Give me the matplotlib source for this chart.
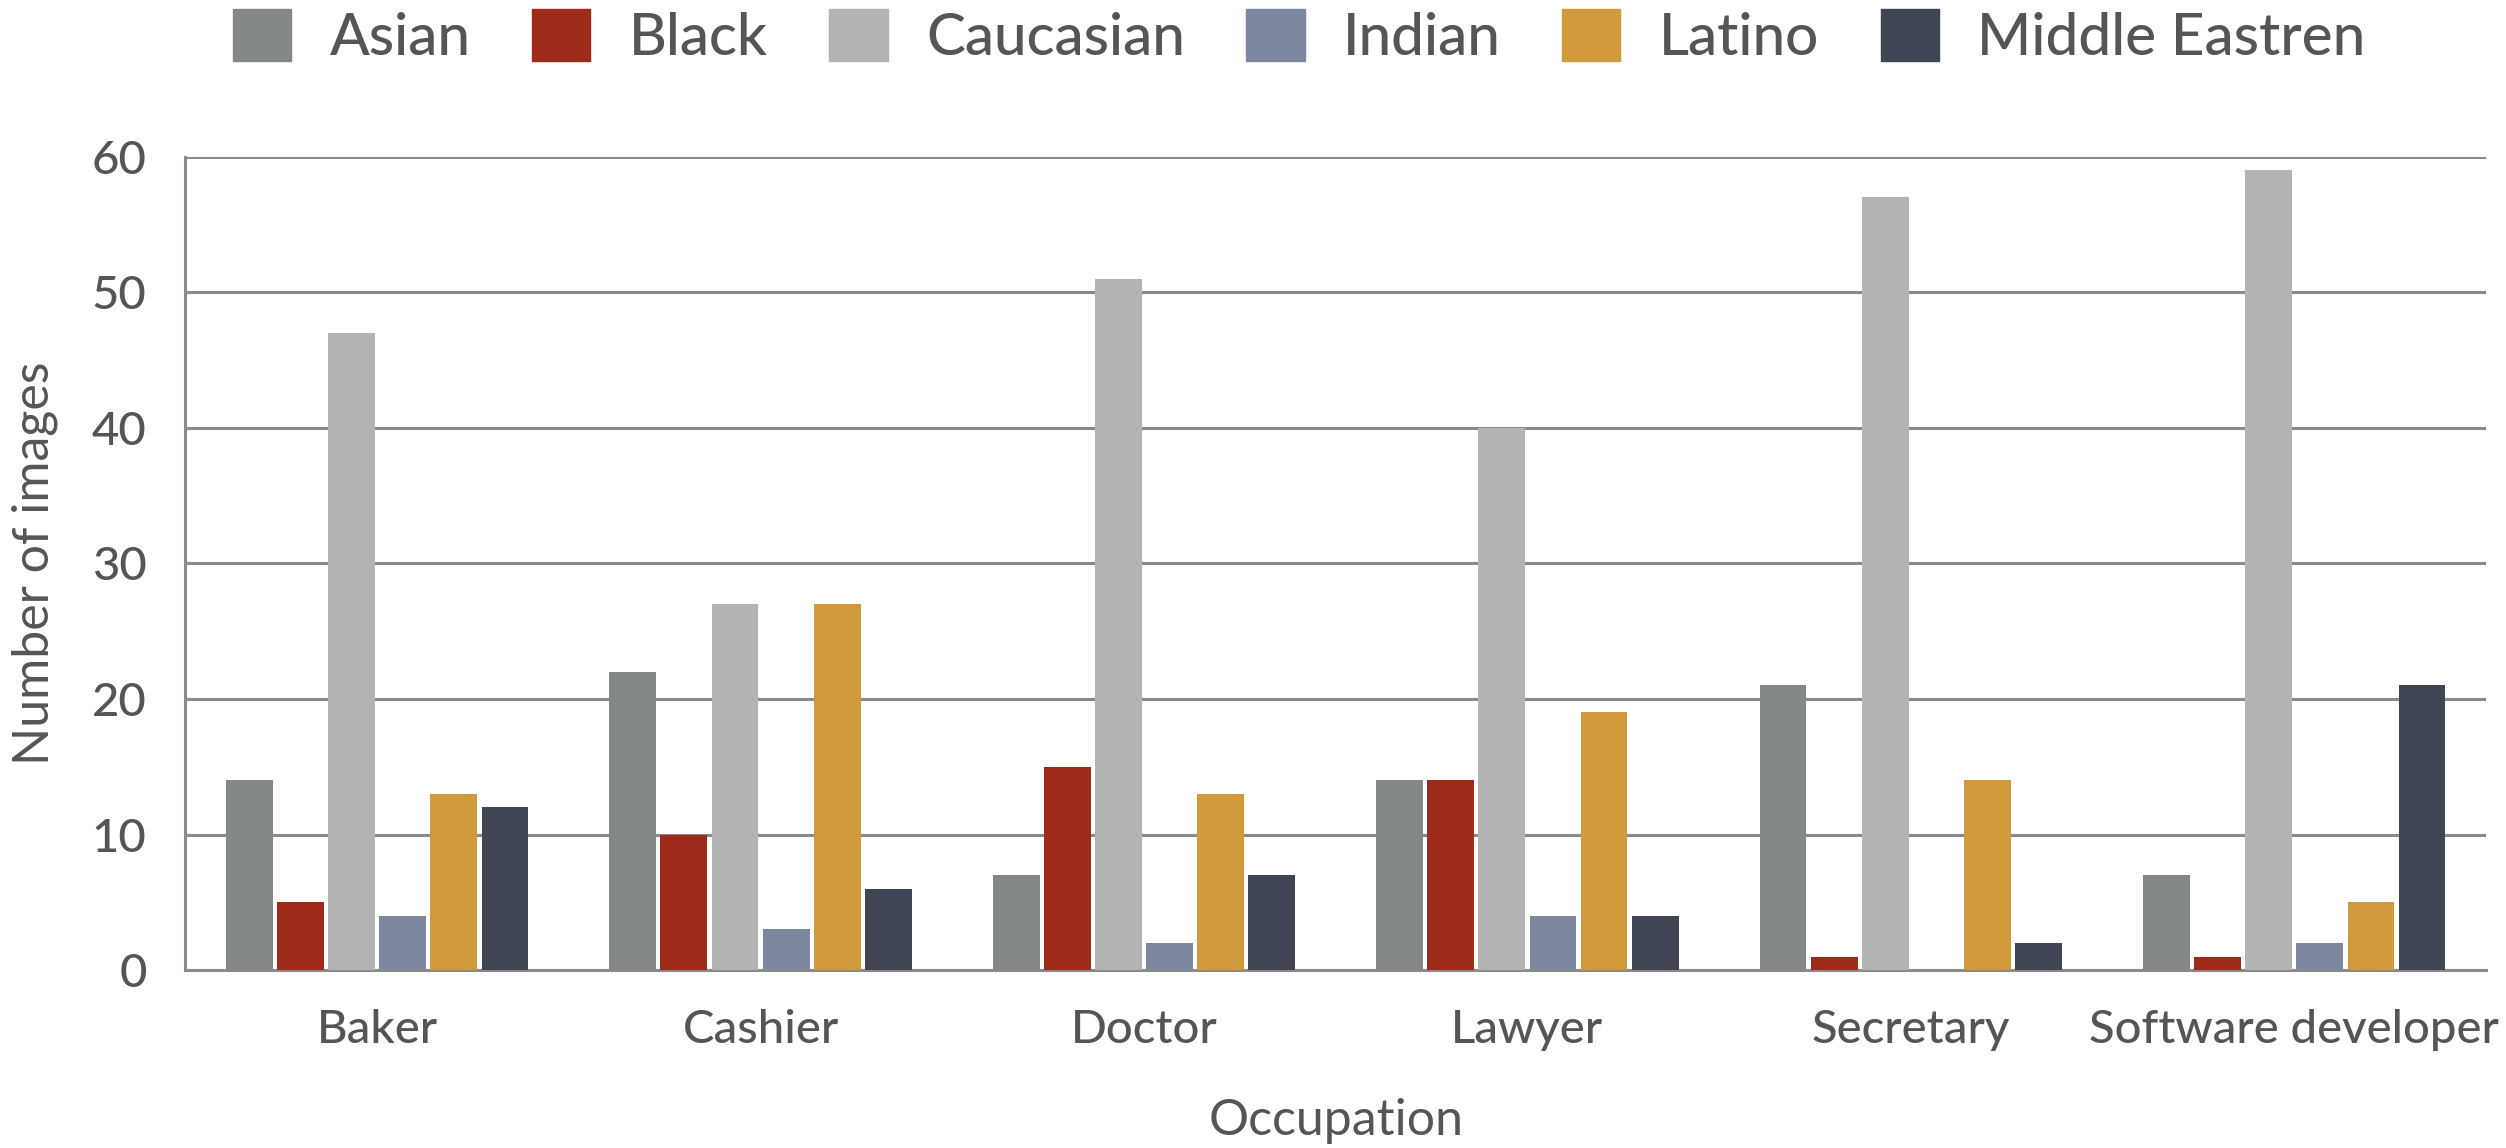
import numpy as np
import matplotlib
matplotlib.use("Agg")
import matplotlib.pyplot as plt
from matplotlib.patches import Patch

occupations = ["Baker", "Cashier", "Doctor", "Lawyer", "Secretary", "Software developer"]
groups = ["Asian", "Black", "Caucasian", "Indian", "Latino", "Middle Eastren"]

asian = [14, 22, 7, 14, 21, 7]
black = [5, 10, 15, 14, 1, 1]
caucasian = [47, 27, 51, 40, 57, 59]
indian = [4, 3, 2, 4, 0, 2]
latino = [13, 27, 13, 19, 14, 5]
middle_eastren = [12, 6, 7, 4, 2, 21]

colors = ["#838885", "#9e2a1a", "#b3b3b3", "#7d88a0", "#d09a3a", "#3f4553"]
text_color = "#555555"
grid_color = "#8a8a8a"

plt.rcParams["font.family"] = ["Lato", "DejaVu Sans"]
plt.rcParams["font.weight"] = "medium"

fig = plt.figure(figsize=(25.06, 11.48), dpi=100)
ax = fig.add_axes([0.074, 0.155, 0.918, 0.7085])

series = [asian, black, caucasian, indian, latino, middle_eastren]
x = np.arange(len(occupations))
slot = 0.8 / len(series)
for i, (vals, c) in enumerate(zip(series, colors)):
    offs = (i - (len(series) - 1) / 2) * slot
    ax.bar(x + offs, vals, width=0.122, color=c, zorder=3, label=groups[i])

ax.set_xlim(-0.5, len(occupations) - 0.5)
ax.set_ylim(0, 60)
ax.set_yticks(range(0, 61, 10))
ax.set_xticks(x)
ax.set_xticklabels(occupations)
ax.yaxis.grid(True, color=grid_color, linewidth=2.2, zorder=0)
ax.set_axisbelow(True)

for s in ["top", "right"]:
    ax.spines[s].set_visible(False)
for s in ["left", "bottom"]:
    ax.spines[s].set_color(grid_color)
    ax.spines[s].set_linewidth(2.2)

ax.tick_params(axis="both", length=0, labelsize=34, colors=text_color)
ax.tick_params(axis="y", pad=28)
ax.tick_params(axis="x", pad=28)

ax.set_xlabel("Occupation", fontsize=36, color=text_color, labelpad=34)
ax.set_ylabel("Number of images", fontsize=36, color=text_color, labelpad=24)

handles = [Patch(color=c) for c in colors]
fig.legend(handles, groups, loc="center", bbox_to_anchor=(0.5185, 0.968),
           ncol=6, frameon=False, fontsize=42, labelcolor=text_color,
           handlelength=1.0, handleheight=1.0, handletextpad=0.66, columnspacing=1.05)

plt.savefig("out.png", dpi=100)
